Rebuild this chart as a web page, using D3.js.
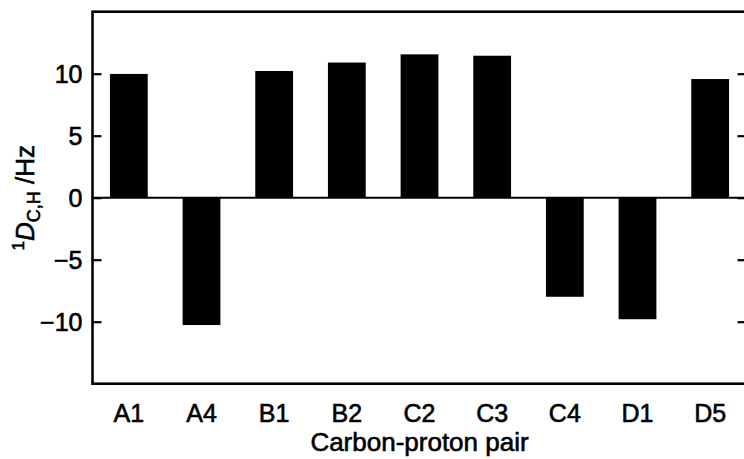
<!DOCTYPE html>
<html>
<head>
<meta charset="utf-8">
<script src="https://cdn.jsdelivr.net/npm/d3@7"></script>
<style>
  html, body { margin: 0; padding: 0; background: #fff; }
  svg { display: block; }
  text { font-family: "Liberation Sans", Arial, Helvetica, sans-serif; fill: #000; stroke: #000; stroke-width: 0.6px; }
</style>
</head>
<body>
<svg id="chart" width="744" height="459"></svg>
<script>
// Residual dipolar couplings per carbon-proton pair
const pairs = ["A1", "A4", "B1", "B2", "C2", "C3", "C4", "D1", "D5"];
const couplings = [9.98, -10.27, 10.22, 10.9, 11.56, 11.45, -7.99, -9.8, 9.57];
const yTicks = [-10, -5, 0, 5, 10];

const svg = d3.select("#chart");
const plotLeft = 92.5, plotRight = 746.5, plotTop = 11.7, plotBottom = 383.7;

const x = d3.scaleBand()
  .domain(pairs)
  .range([plotLeft, plotRight])
  .paddingInner(0.48)
  .paddingOuter(0.24);

const y = d3.scaleLinear().domain([-15, 15]).range([plotBottom, plotTop]);

// bars
svg.append("g")
  .selectAll("rect")
  .data(pairs.map((p, i) => ({ p, v: couplings[i] })))
  .join("rect")
  .attr("x", d => x(d.p))
  .attr("width", x.bandwidth())
  .attr("y", d => y(Math.max(0, d.v)))
  .attr("height", d => Math.abs(y(d.v) - y(0)))
  .attr("fill", "#000");

// zero line
svg.append("line")
  .attr("x1", plotLeft).attr("x2", plotRight)
  .attr("y1", y(0)).attr("y2", y(0))
  .attr("stroke", "#000").attr("stroke-width", 2);

// left axis with inward ticks
const yAxisL = svg.append("g")
  .attr("transform", `translate(${plotLeft},0)`)
  .call(d3.axisLeft(y).tickValues(yTicks).tickSize(-9).tickPadding(10)
    .tickFormat(d => d < 0 ? "\u2212" + Math.abs(d) : d));
yAxisL.select(".domain").remove();
yAxisL.selectAll(".tick line").attr("stroke", "#000").attr("stroke-width", 2.2);
yAxisL.selectAll(".tick text")
  .attr("font-size", 25)
  .attr("font-family", "Liberation Sans, Arial, sans-serif")
  .attr("dy", "0.36em");

// right axis with inward ticks
const yAxisR = svg.append("g")
  .attr("transform", `translate(${plotRight},0)`)
  .call(d3.axisRight(y).tickValues(yTicks).tickSize(-9).tickFormat(""));
yAxisR.select(".domain").remove();
yAxisR.selectAll(".tick line").attr("stroke", "#000").attr("stroke-width", 2.2);

// frame
svg.append("rect")
  .attr("x", plotLeft).attr("y", plotTop)
  .attr("width", plotRight - plotLeft).attr("height", plotBottom - plotTop)
  .attr("fill", "none").attr("stroke", "#000").attr("stroke-width", 2.6);

// category labels
const xAxis = svg.append("g")
  .attr("transform", `translate(0,${plotBottom})`)
  .call(d3.axisBottom(x).tickSize(0).tickPadding(0));
xAxis.select(".domain").remove();
xAxis.selectAll(".tick text")
  .attr("font-size", 25)
  .attr("font-family", "Liberation Sans, Arial, sans-serif")
  .attr("y", 38)
  .attr("dy", 0);

// axis titles
svg.append("text")
  .attr("x", (plotLeft + plotRight) / 2)
  .attr("y", 451)
  .attr("text-anchor", "middle")
  .attr("font-size", 26)
  .text("Carbon-proton pair");

const yl = svg.append("text")
  .attr("transform", `translate(34,${y(0)}) rotate(-90)`)
  .attr("text-anchor", "middle")
  .attr("font-size", 26);
yl.append("tspan").attr("font-size", 17).attr("dy", -10).text("1");
yl.append("tspan").attr("font-style", "italic").attr("dy", 10).text("D");
yl.append("tspan").attr("font-size", 18).attr("dy", 6).text("C,H");
yl.append("tspan").attr("dy", -6).text(" /Hz");
</script>
</body>
</html>
